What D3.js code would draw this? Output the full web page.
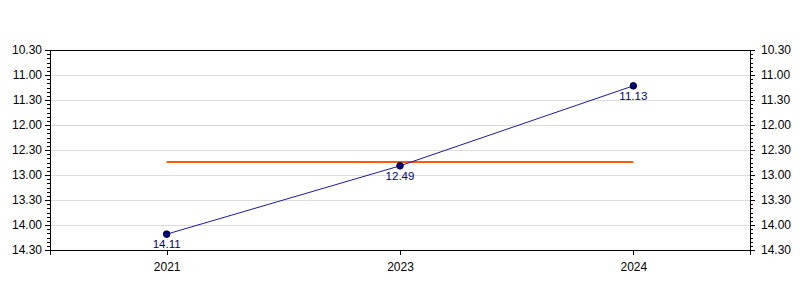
<!DOCTYPE html>
<meta charset="utf-8">
<style>
body { margin: 0; background: #fff; }
.grid line { stroke: #dcdcdc; shape-rendering: crispEdges; }
.grid path { stroke-width: 0; }
.axis text { font: 12px "Liberation Sans", Arial, sans-serif; fill: #000; }
.axis path, .axis line { stroke: #000; shape-rendering: crispEdges; }
.lbl { font: 11.5px "Liberation Sans", Arial, sans-serif; fill: #000080; }
</style>
<body>
<script src="https://cdnjs.cloudflare.com/ajax/libs/d3/7.8.5/d3.min.js"></script>
<script>

// data
var years = ["2021", "2023", "2024"];
var times = ["14.11", "12.49", "11.13"];   // minutes.seconds
var yTicks = ["10.30", "11.00", "11.30", "12.00", "12.30", "13.00", "13.30", "14.00", "14.30"];

function toSec(s) {
  var p = s.split(".");
  return +p[0] * 60 + +p[1];
}
function fmt(v) {
  var m = Math.floor(v / 60), s = Math.round(v - m * 60);
  return m + "." + (s < 10 ? "0" : "") + s;
}

var margin = {top: 50, right: 50, bottom: 50, left: 50},
    width = 800 - margin.left - margin.right,
    height = 300 - margin.top - margin.bottom;

var data = years.map(function(y, i) { return {year: y, t: toSec(times[i]), label: times[i]}; });
var tickVals = yTicks.map(toSec);

var x = d3.scalePoint().domain(years).range([0, width]).padding(0.5);
var y = d3.scaleLinear()
    .domain([tickVals[0], tickVals[tickVals.length - 1]])
    .range([0, height]);   // reversed: faster times on top

var minorVals = d3.range(tickVals[0], tickVals[tickVals.length - 1] + 1, 5)
    .filter(function(v) { return tickVals.indexOf(v) < 0; });

var svg = d3.select("body").append("svg")
    .attr("width", 800)
    .attr("height", 300)
  .append("g")
    .attr("transform", "translate(" + margin.left + "," + margin.top + ")");

// grid
svg.append("g")
    .attr("class", "grid")
    .call(d3.axisLeft(y).tickValues(tickVals).tickSize(-width).tickFormat(""));

// frame
svg.append("rect")
    .attr("width", width).attr("height", height)
    .attr("fill", "none").attr("stroke", "#000")
    .attr("shape-rendering", "crispEdges");

// left axis
svg.append("g").attr("class", "axis")
    .call(d3.axisLeft(y).tickValues(minorVals).tickSize(3).tickFormat(""));
svg.append("g").attr("class", "axis")
    .call(d3.axisLeft(y).tickValues(tickVals).tickSize(5).tickPadding(3).tickFormat(fmt));

// right axis
var right = svg.append("g").attr("transform", "translate(" + width + ",0)");
right.append("g").attr("class", "axis")
    .call(d3.axisRight(y).tickValues(minorVals).tickSize(3).tickFormat(""));
right.append("g").attr("class", "axis")
    .call(d3.axisRight(y).tickValues(tickVals).tickSize(5).tickPadding(6).tickFormat(fmt));

// bottom axis
svg.append("g").attr("class", "axis")
    .attr("transform", "translate(0," + height + ")")
    .call(d3.axisBottom(x).tickSize(5).tickPadding(7));

// average line
var avg = d3.mean(data, function(d) { return d.t; });
svg.append("line")
    .attr("x1", x(years[0])).attr("x2", x(years[years.length - 1]))
    .attr("y1", y(avg)).attr("y2", y(avg))
    .attr("stroke", "#ff5a0a").attr("stroke-width", 2);

// series line
svg.append("path")
    .datum(data)
    .attr("fill", "none")
    .attr("stroke", "#1a1aa0")
    .attr("stroke-width", 1)
    .attr("d", d3.line().x(function(d) { return x(d.year); }).y(function(d) { return y(d.t); }));

svg.selectAll(".dot")
    .data(data)
  .enter().append("circle")
    .attr("class", "dot")
    .attr("cx", function(d) { return x(d.year); })
    .attr("cy", function(d) { return y(d.t); })
    .attr("r", 3.3)
    .attr("fill", "#000080")
    .attr("stroke", "#000033");

svg.selectAll(".lbl")
    .data(data)
  .enter().append("text")
    .attr("class", "lbl")
    .attr("x", function(d) { return x(d.year); })
    .attr("y", function(d) { return y(d.t) + 14; })
    .attr("text-anchor", "middle")
    .text(function(d) { return d.label; });

</script>
</body>
